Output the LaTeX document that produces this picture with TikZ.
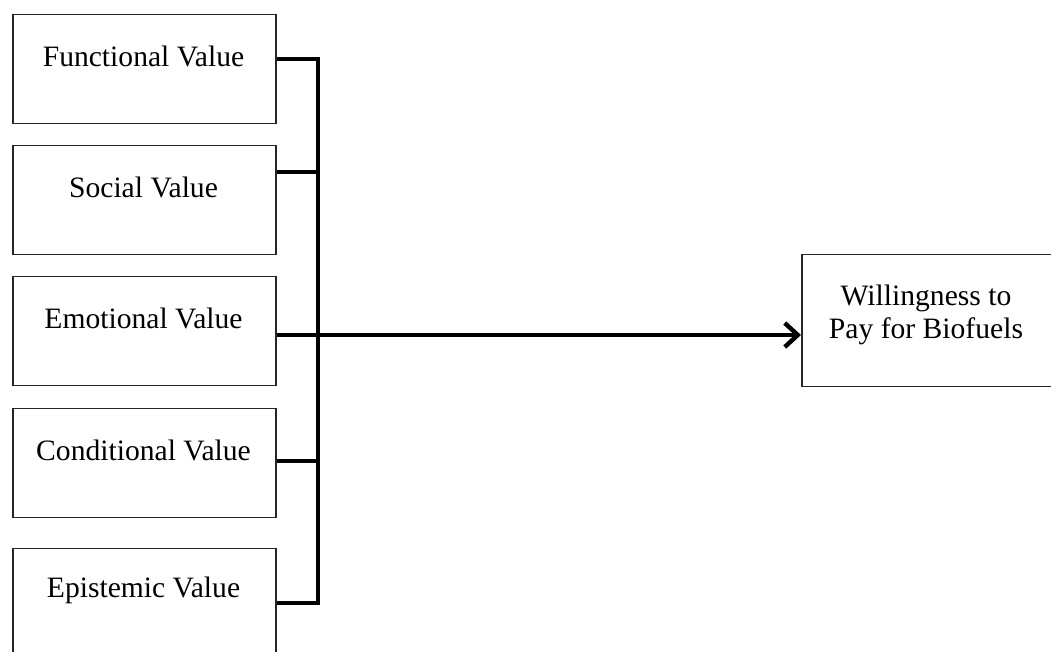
\documentclass[tikz,border=0pt]{standalone}
\usepackage{fontspec}
\setmainfont{Liberation Serif}
\usetikzlibrary{arrows.meta,positioning}

\begin{document}
\begin{tikzpicture}
  [
  x=0.5pt, y=-0.5pt, font=\fontsize{14.8}{16.7}\selectfont, line width=2.2pt, line join=miter,
  >={Straight Barb[length=6.5pt,width=12pt,line width=2.2pt]},
  value/.style={rectangle, minimum height=54.5pt, minimum width=131.5pt, draw=black!85, line width=0.75pt, anchor=north west},
  result/.style={rectangle, minimum height=66pt, minimum width=125.5pt, draw=black!85, line width=0.75pt, anchor=north west},
  caption/.style={align=center, inner sep=0pt}
  ]

\useasboundingbox (0,0) rectangle (1051,652);

\foreach \v/\t/\l in {1/14/Functional Value, 2/145/Social Value, 3/276/Emotional Value, 4/408/Conditional Value, 5/548/Epistemic Value} {
  \node[value] (v\v) at (12,\t) {};
  \node[caption] (t\v) at (143.5,\t+42) {\l};
}

\node[result] (wtp) at (801,254) {};
\node[caption] (twtp) at (926,315) {Willingness to\\Pay for Biofuels};

% joints on the bar
\coordinate (j1) at (318,59);
\coordinate (j2) at (318,172);
\coordinate (j3) at (318,335);
\coordinate (j4) at (318,461);
\coordinate (j5) at (318,603);

\draw (v1.east |- j1) -- (j1) -- (j5) -- (v5.east |- j5);
\draw (v2.east |- j2) -- (j2);
\draw (v4.east |- j4) -- (j4);
\draw[->] (v3.east |- j3) -- (wtp.west |- j3);
\end{tikzpicture}
\end{document}
